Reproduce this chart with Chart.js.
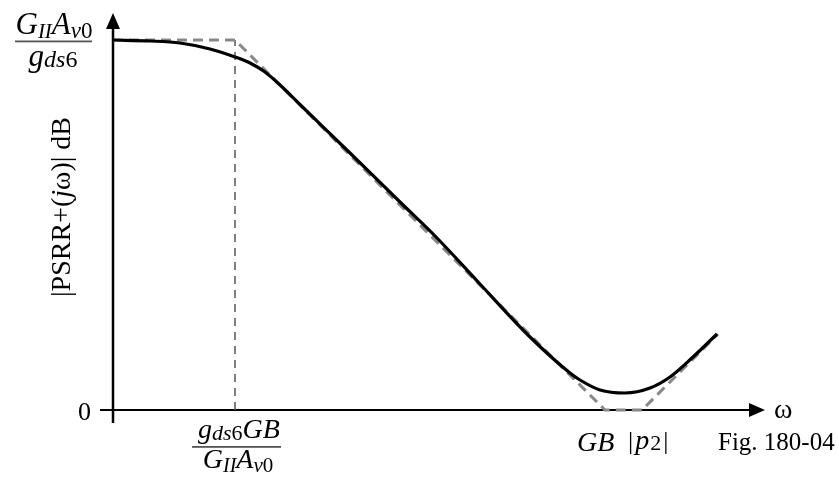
<!DOCTYPE html>
<html lang="en">
<head>
    <meta charset="UTF-8">
    <title>PSRR+ Bode plot</title>
    <script src="https://cdn.jsdelivr.net/npm/chart.js"></script>
    <style>
        body {
            margin: 0;
            background: #fff;
        }

        .chart-container {
            width: 839px;
            height: 478px;
        }
    </style>
</head>
<body>

    <div class="chart-container">
        <canvas id="psrrChart"></canvas>
    </div>

    <script>
        // x in decades of omega, y in dB (arbitrary origin)
        const curveX = [0, 0.37, 0.67, 0.97, 1.22, 1.37, 1.52, 1.67, 1.87, 2.37, 2.87, 3.24, 3.67, 4.17, 4.57, 4.67, 4.87, 5.12, 5.37, 5.57, 5.80, 6.04];
        const curveY = [74, 73.8, 73.4, 72.2, 70.6, 69.4, 67.6, 65, 61.1, 51.4, 41.6, 34.4, 25.2, 14.6, 7.4, 6, 4, 3.4, 4.4, 6.6, 10.6, 15.2];

        // asymptotic (straight-line) approximation
        const asymX = [0, 1.22, 4.92, 5.29, 6.05];
        const asymY = [74, 74, 0, 0, 15.2];

        // vertical marker at the first break frequency
        const markX = [1.22, 1.22];
        const markY = [0, 74];

        const xMax = 6.5;
        const yMax = 79.2;

        const toPoints = (xs, ys) => xs.map((x, i) => ({ x: x, y: ys[i] }));

        const FONT = '"Liberation Serif", "DejaVu Serif", serif';

        // draw a run of text pieces (sub/superscripts, italics)
        function drawRuns(ctx, runs, x, y, align) {
            let total = 0;
            runs.forEach(r => {
                ctx.font = (r.italic ? 'italic ' : '') + r.size + 'px ' + FONT;
                r.w = ctx.measureText(r.t).width + (r.gap || 0);
                total += r.w;
            });
            let cx = align === 'center' ? x - total / 2 : (align === 'right' ? x - total : x);
            runs.forEach(r => {
                ctx.font = (r.italic ? 'italic ' : '') + r.size + 'px ' + FONT;
                ctx.fillText(r.t, cx, y + (r.dy || 0));
                cx += r.w;
            });
            return total;
        }

        const axesPlugin = {
            id: 'axes',
            beforeDatasetsDraw(chart) {
                const ctx = chart.ctx;
                const xs = chart.scales.x, ys = chart.scales.y;
                const x0 = xs.getPixelForValue(0);
                const y0 = ys.getPixelForValue(0);
                const xEnd = xs.getPixelForValue(xMax);
                const yEnd = ys.getPixelForValue(yMax);
                ctx.save();
                ctx.strokeStyle = '#000';
                ctx.fillStyle = '#000';
                // y axis
                ctx.lineWidth = 2.5;
                ctx.beginPath();
                ctx.moveTo(x0, y0 + 13);
                ctx.lineTo(x0, yEnd + 14);
                ctx.stroke();
                ctx.beginPath();
                ctx.moveTo(x0, yEnd - 1);
                ctx.lineTo(x0 - 7, yEnd + 15);
                ctx.lineTo(x0 + 7, yEnd + 15);
                ctx.closePath();
                ctx.fill();
                // x axis
                ctx.lineWidth = 2;
                ctx.beginPath();
                ctx.moveTo(x0 - 13, y0);
                ctx.lineTo(xEnd - 14, y0);
                ctx.stroke();
                ctx.beginPath();
                ctx.moveTo(xEnd + 2, y0);
                ctx.lineTo(xEnd - 14, y0 - 7);
                ctx.lineTo(xEnd - 14, y0 + 7);
                ctx.closePath();
                ctx.fill();
                ctx.restore();
            },
            afterDraw(chart) {
                const ctx = chart.ctx;
                const xs = chart.scales.x, ys = chart.scales.y;
                const x0 = xs.getPixelForValue(0);
                const y0 = ys.getPixelForValue(0);
                const xBreak = xs.getPixelForValue(markX[0]);
                ctx.save();
                ctx.fillStyle = '#000';
                ctx.textBaseline = 'alphabetic';

                // top-left fraction  G_II A_v0 / g_ds6
                drawRuns(ctx, [
                    { t: 'G', size: 31, italic: true },
                    { t: 'II', size: 21, italic: true, dy: 4 },
                    { t: 'A', size: 31, italic: true },
                    { t: 'v', size: 23, italic: true, dy: 4 },
                    { t: '0', size: 23, dy: 4 }
                ], 54, 34, 'center');
                ctx.fillStyle = '#555';
                ctx.fillRect(15, 40.5, 77, 1.8);
                ctx.fillStyle = '#000';
                drawRuns(ctx, [
                    { t: 'g', size: 31, italic: true },
                    { t: 'ds', size: 24, italic: true, dy: 1 },
                    { t: '6', size: 24, dy: 1 }
                ], 53, 66, 'center');

                // y axis title
                ctx.save();
                ctx.translate(70, 207);
                ctx.rotate(-Math.PI / 2);
                drawRuns(ctx, [
                    { t: '|PSRR+(', size: 28 },
                    { t: 'j', size: 28, italic: true },
                    { t: 'ω)| dB', size: 28 }
                ], 0, 0, 'center');
                ctx.restore();

                // zero label
                drawRuns(ctx, [{ t: '0', size: 26 }], x0 - 22, y0 + 10, 'right');

                // bottom fraction under first break
                drawRuns(ctx, [
                    { t: 'g', size: 28, italic: true },
                    { t: 'ds', size: 22, italic: true, dy: 2 },
                    { t: '6', size: 22, dy: 2 },
                    { t: 'GB', size: 28, italic: true }
                ], xBreak + 4, 438, 'center');
                ctx.fillStyle = '#555';
                ctx.fillRect(xBreak - 43, 446, 89, 1.8);
                ctx.fillStyle = '#000';
                drawRuns(ctx, [
                    { t: 'G', size: 28, italic: true },
                    { t: 'II', size: 20, italic: true, dy: 4 },
                    { t: 'A', size: 28, italic: true },
                    { t: 'v', size: 21, italic: true, dy: 4 },
                    { t: '0', size: 21, dy: 4 }
                ], xBreak + 3, 468, 'center');

                // GB |p2|
                drawRuns(ctx, [{ t: 'GB', size: 28, italic: true }], 577, 451, 'left');
                drawRuns(ctx, [
                    { t: '|', size: 26, gap: 2 },
                    { t: 'p', size: 28, italic: true, gap: 1 },
                    { t: '2', size: 22, dy: 1, gap: 2 },
                    { t: '|', size: 26 }
                ], 628, 449, 'left');

                // omega and figure number
                drawRuns(ctx, [{ t: 'ω', size: 28 }], 774, 418, 'left');
                drawRuns(ctx, [{ t: 'Fig. 180-04', size: 25 }], 718, 450, 'left');
                ctx.restore();
            }
        };

        const ctx = document.getElementById('psrrChart').getContext('2d');
        const psrrChart = new Chart(ctx, {
            type: 'line',
            data: {
                datasets: [{
                    label: 'PSRR+',
                    data: toPoints(curveX, curveY),
                    borderColor: '#000',
                    borderWidth: 3.2,
                    cubicInterpolationMode: 'monotone',
                    pointRadius: 0,
                    clip: false
                }, {
                    label: 'Asymptote',
                    data: toPoints(asymX, asymY),
                    borderColor: '#888',
                    borderWidth: 3,
                    borderDash: [10, 6],
                    tension: 0,
                    pointRadius: 0,
                    clip: false
                }, {
                    label: 'Break',
                    data: toPoints(markX, markY),
                    borderColor: '#555',
                    borderWidth: 1.5,
                    borderDash: [8, 6],
                    tension: 0,
                    pointRadius: 0,
                    clip: false
                }]
            },
            options: {
                responsive: true,
                maintainAspectRatio: false,
                animation: false,
                layout: {
                    padding: { left: 113, right: 76, top: 14, bottom: 68 }
                },
                plugins: {
                    legend: { display: false },
                    tooltip: { enabled: false }
                },
                scales: {
                    x: { type: 'linear', min: 0, max: xMax, display: false },
                    y: { type: 'linear', min: 0, max: yMax, display: false }
                }
            },
            plugins: [axesPlugin]
        });
    </script>

</body>
</html>
